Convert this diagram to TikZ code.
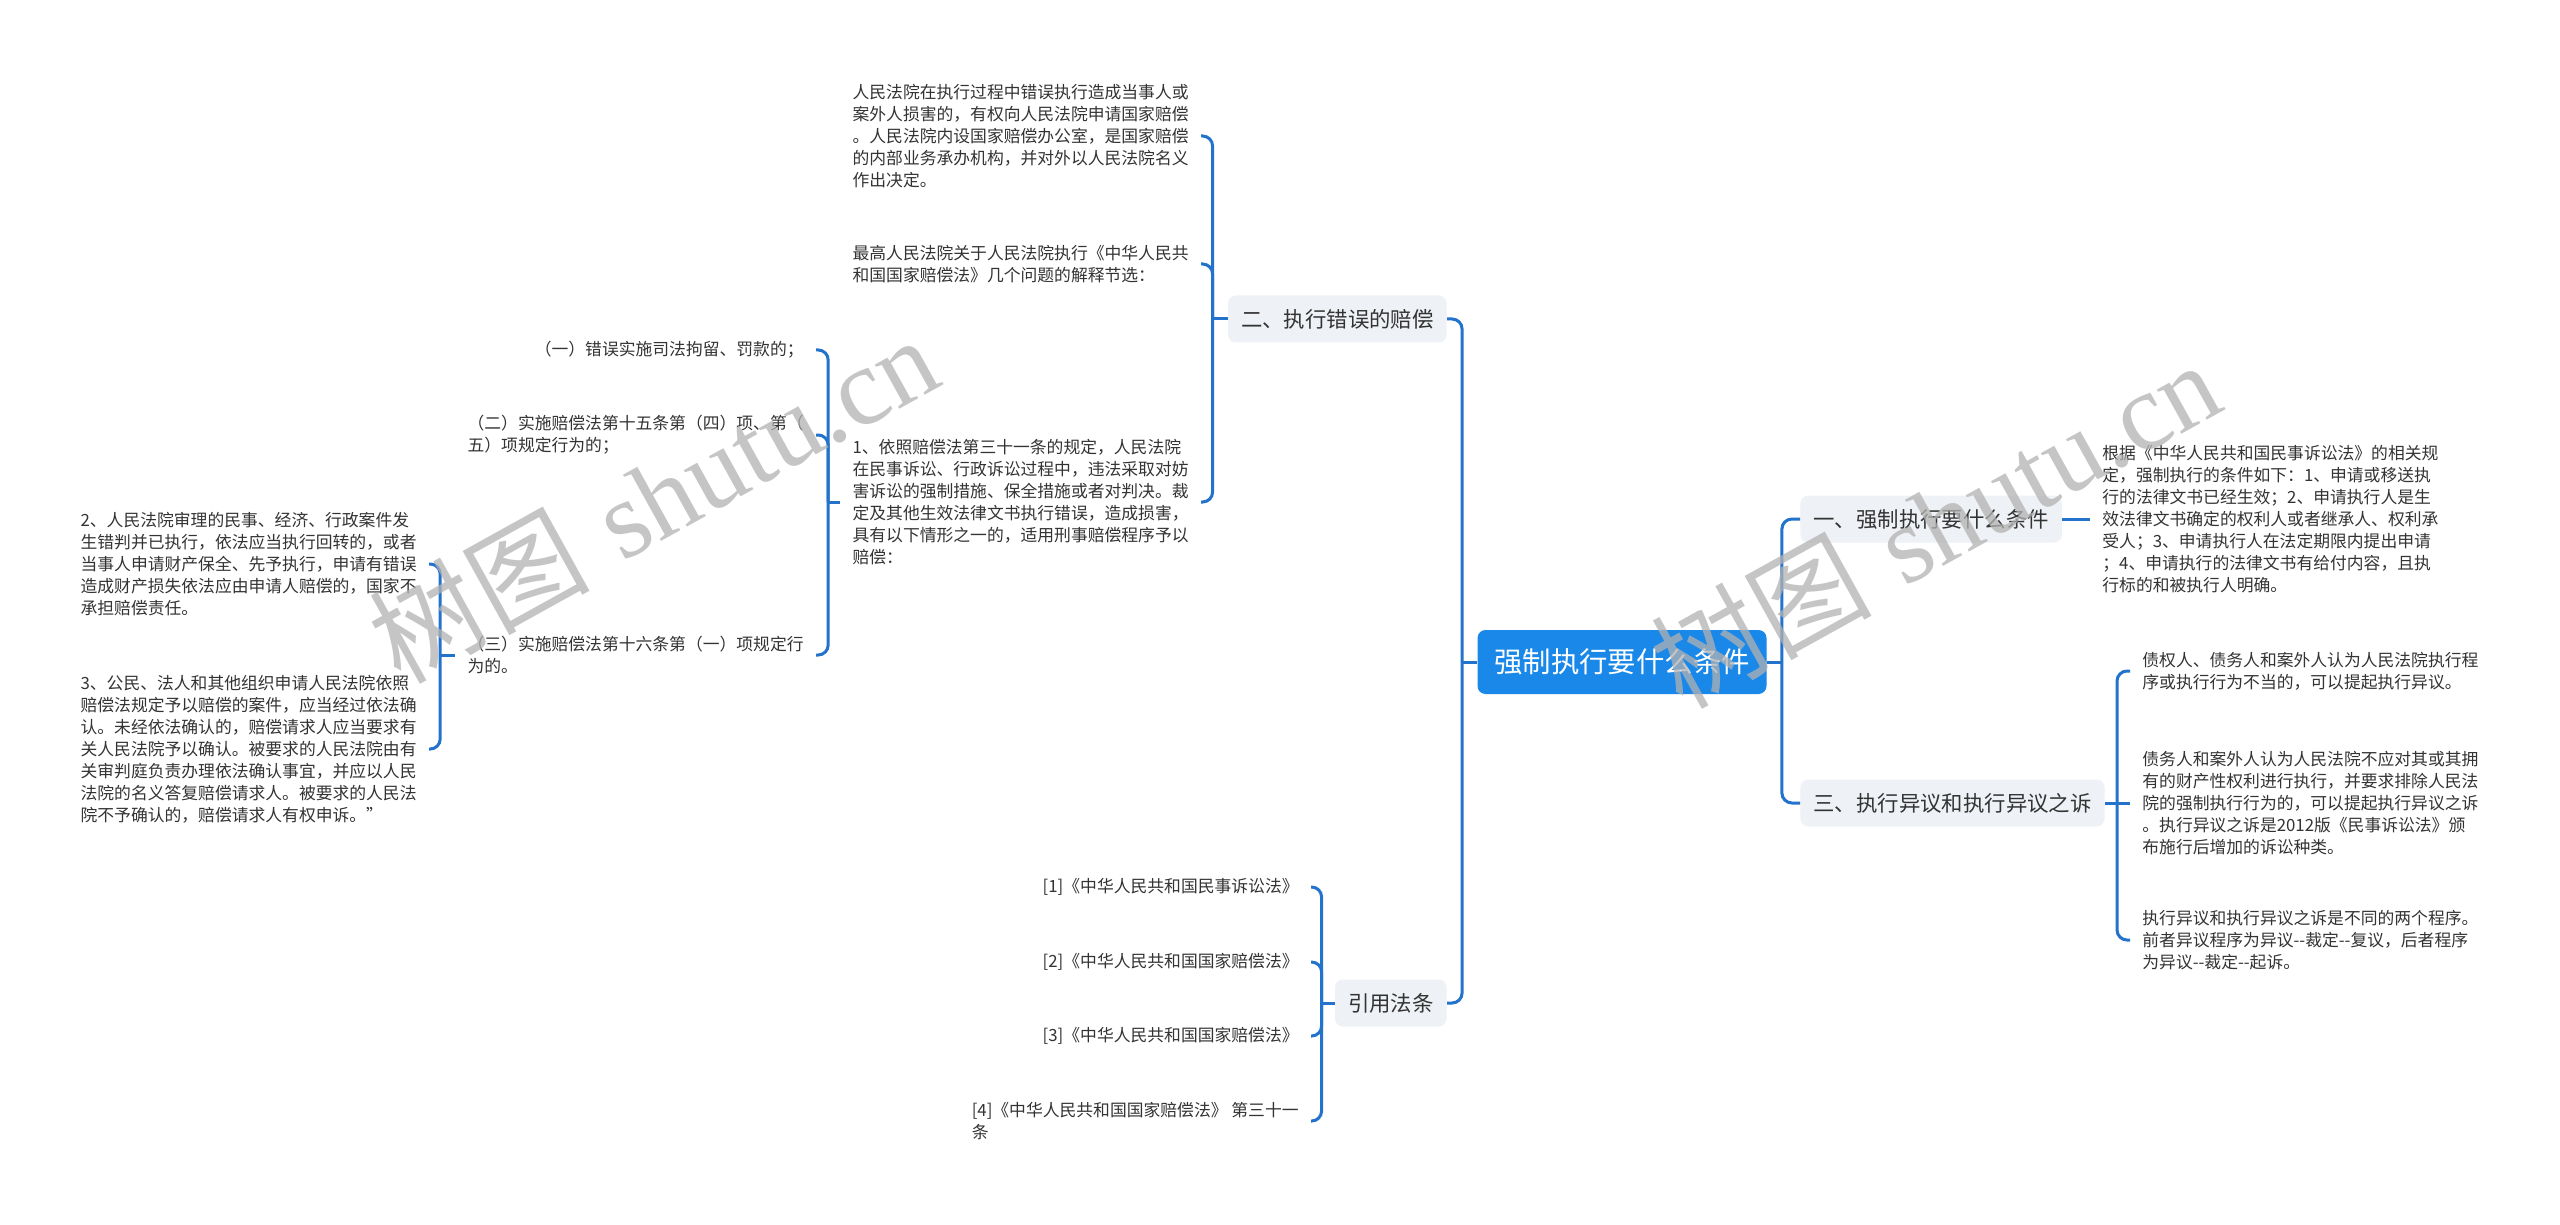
\documentclass[tikz,border=0pt]{standalone}
\usepackage{fontspec}
\newfontfamily\zh{Noto Sans CJK SC}
\newfontfamily\wmserif{Liberation Serif}
\definecolor{linkblue}{RGB}{35,115,205}
\definecolor{rootblue}{RGB}{26,136,232}
\definecolor{boxgray}{RGB}{238,241,245}
\definecolor{txtgray}{RGB}{51,51,51}
\tikzset{
  link/.style={draw=linkblue,line width=1.5pt,rounded corners=5pt},
  rootbox/.style={fill=rootblue,rounded corners=4pt,text=white,font=\zh\fontsize{14.2}{17}\selectfont,minimum width=144.5pt,minimum height=32pt,inner sep=0pt},
  topic/.style={fill=boxgray,rounded corners=4pt,text=txtgray,font=\zh\fontsize{10.7}{13}\selectfont,minimum height=23.5pt,inner xsep=6.5pt,inner ysep=0pt},
  leaf/.style={text=txtgray,font=\zh\fontsize{8.4}{11}\selectfont,align=left,inner xsep=6pt,inner ysep=2pt},
  wmark/.style={text=black!30,opacity=0.75,font=\fontsize{55}{60}\selectfont,inner sep=0pt}
}
\begin{document}
\begin{tikzpicture}[x=0.5pt,y=-0.5pt]
\fill[white] (0,0) rectangle (2560,1225);
\useasboundingbox (0,0) rectangle (2560,1225);

\node[rootbox] (root) at (1622,662) {强制执行要什么条件};

\node[topic,anchor=west] (cond) at (1800,519) {一、强制执行要什么条件};
\node[topic,anchor=west] (objection) at (1800,803) {三、执行异议和执行异议之诉};
\node[topic,anchor=east] (wrong) at (1447,319) {二、执行错误的赔偿};
\node[topic,anchor=east] (law) at (1447,1003) {引用法条};

\node[leaf,anchor=west] (condtext) at (2090,519) {根据《中华人民共和国民事诉讼法》的相关规\\定，强制执行的条件如下：1、申请或移送执\\行的法律文书已经生效；2、申请执行人是生\\效法律文书确定的权利人或者继承人、权利承\\受人；3、申请执行人在法定期限内提出申请\\；4、申请执行的法律文书有给付内容，且执\\行标的和被执行人明确。};

\node[leaf,anchor=west] (obj1) at (2130,671) {债权人、债务人和案外人认为人民法院执行程\\序或执行行为不当的，可以提起执行异议。};
\node[leaf,anchor=west] (obj2) at (2130,803) {债务人和案外人认为人民法院不应对其或其拥\\有的财产性权利进行执行，并要求排除人民法\\院的强制执行行为的，可以提起执行异议之诉\\。执行异议之诉是2012版《民事诉讼法》颁\\布施行后增加的诉讼种类。};
\node[leaf,anchor=west] (obj3) at (2130,940) {执行异议和执行异议之诉是不同的两个程序。\\前者异议程序为异议--裁定--复议，后者程序\\为异议--裁定--起诉。};

\node[leaf,anchor=east] (court) at (1201,136) {人民法院在执行过程中错误执行造成当事人或\\案外人损害的，有权向人民法院申请国家赔偿\\。人民法院内设国家赔偿办公室，是国家赔偿\\的内部业务承办机构，并对外以人民法院名义\\作出决定。};
\node[leaf,anchor=east] (interp) at (1201,264) {最高人民法院关于人民法院执行《中华人民共\\和国国家赔偿法》几个问题的解释节选：};
\node[leaf,anchor=east] (art31) at (1201,502) {1、依照赔偿法第三十一条的规定，人民法院\\在民事诉讼、行政诉讼过程中，违法采取对妨\\害诉讼的强制措施、保全措施或者对判决。裁\\定及其他生效法律文书执行错误，造成损害，\\具有以下情形之一的，适用刑事赔偿程序予以\\赔偿：};

\node[leaf,anchor=east] (item1) at (816,350) {（一）错误实施司法拘留、罚款的；};
\node[leaf,anchor=east] (item2) at (816,435) {（二）实施赔偿法第十五条第（四）项、第（\\五）项规定行为的；};
\node[leaf,anchor=east] (item3) at (816,655) {（三）实施赔偿法第十六条第（一）项规定行\\为的。};

\node[leaf,anchor=east] (rule2) at (429,564) {2、人民法院审理的民事、经济、行政案件发\\生错判并已执行，依法应当执行回转的，或者\\当事人申请财产保全、先予执行，申请有错误\\造成财产损失依法应由申请人赔偿的，国家不\\承担赔偿责任。};
\node[leaf,anchor=east] (rule3) at (429,749) {3、公民、法人和其他组织申请人民法院依照\\赔偿法规定予以赔偿的案件，应当经过依法确\\认。未经依法确认的，赔偿请求人应当要求有\\关人民法院予以确认。被要求的人民法院由有\\关审判庭负责办理依法确认事宜，并应以人民\\法院的名义答复赔偿请求人。被要求的人民法\\院不予确认的，赔偿请求人有权申诉。”};

\node[leaf,anchor=east] (ref1) at (1311,887) {[1]《中华人民共和国民事诉讼法》};
\node[leaf,anchor=east] (ref2) at (1311,962) {[2]《中华人民共和国国家赔偿法》};
\node[leaf,anchor=east] (ref3) at (1311,1036) {[3]《中华人民共和国国家赔偿法》};
\node[leaf,anchor=east] (ref4) at (1311,1121) {[4]《中华人民共和国国家赔偿法》 第三十一\\条};

\coordinate (rbus) at ([xshift=7.5pt]root.east);
\coordinate (lbus) at ([xshift=-7.5pt]root.west);
\coordinate (wbus) at ([xshift=-7.5pt]wrong.west);
\coordinate (abus) at ([xshift=-6pt]art31.west);
\coordinate (ibus) at ([xshift=-7.5pt]item3.west);
\coordinate (lawbus) at ([xshift=-6.5pt]law.west);
\coordinate (obus) at ([xshift=6pt]objection.east);

\draw[link] (root.east) -- (rbus);
\draw[link] (rbus) |- (cond.west);
\draw[link] (rbus) |- (objection.west);
\draw[link] (root.west) -- (lbus);
\draw[link] (lbus) |- (wrong.east);
\draw[link] (lbus) |- (law.east);

\draw[link] (cond.east) -- (condtext.west);
\draw[link] (objection.east) -- (obus);
\draw[link] (obus) |- (obj1.west);
\draw[link] (obus) -- (obj2.west);
\draw[link] (obus) |- (obj3.west);

\draw[link] (wrong.west) -- (wbus);
\foreach \n in {court,interp,art31}
  \draw[link] (wbus) |- (\n.east);
\draw[link] (art31.west) -- (abus);
\foreach \n in {item1,item2,item3}
  \draw[link] (abus) |- (\n.east);
\draw[link] (item3.west) -- (ibus);
\foreach \n in {rule2,rule3}
  \draw[link] (ibus) |- (\n.east);
\draw[link] (law.west) -- (lawbus);
\foreach \n in {ref1,ref2,ref3,ref4}
  \draw[link] (lawbus) |- (\n.east);

\node[wmark,rotate=29] (wm1) at (653,498) {{\zh 树图} {\wmserif shutu.cn}};
\node[wmark,rotate=29] (wm2) at (1935,523) {{\zh 树图} {\wmserif shutu.cn}};
\end{tikzpicture}
\end{document}
